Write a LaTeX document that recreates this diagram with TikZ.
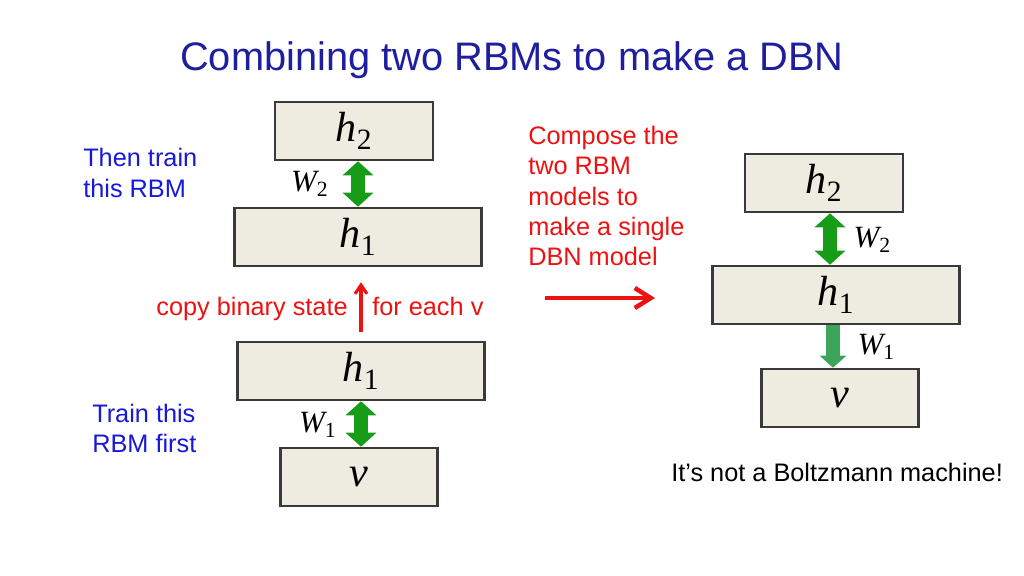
\documentclass[tikz,border=0pt]{standalone}
\usepackage{fontspec}
\setmainfont{Liberation Sans}
\newfontfamily\tms{Liberation Serif}
\usetikzlibrary{arrows.meta, positioning}
\definecolor{layerfill}{HTML}{EEECE1}
\definecolor{layerdraw}{HTML}{3A3A3A}
\definecolor{linkgreen}{HTML}{169C16}
\definecolor{softgreen}{HTML}{3CA55A}
\definecolor{titleblue}{HTML}{1E1E9E}
\definecolor{noteblue}{HTML}{1818D8}
\definecolor{notered}{HTML}{EE1111}
\newcommand{\unitname}[2]{{\tms\itshape #1}\textsubscript{\tms #2}}
\tikzset{
    layer/.style={
        draw=layerdraw,
        line width=1.8pt,
        fill=layerfill,
        rectangle,
        minimum height=1.45cm,
        inner sep=0pt,
        font=\fontsize{30}{30}\selectfont,
    },
    wlabel/.style={font=\fontsize{22}{22}\selectfont, inner sep=1pt},
    note/.style={align=left, inner sep=0pt, font=\fontsize{18}{21.4}\selectfont},
    link/.style={
        linkgreen, line width=10pt,
        {Triangle[width=0.75cm,length=0.35cm]}-{Triangle[width=0.75cm,length=0.35cm]}
    },
    copyarrow/.style={notered, line width=2.2pt, -{Straight Barb[width=0.3cm,length=0.22cm]}},
}

\begin{document}
\begin{tikzpicture}[x=0.025cm, y=-0.025cm]
   \useasboundingbox (0,0) rectangle (1024,576);
   % title
   \node[font=\fontsize{28.3}{28.3}\selectfont, text=titleblue] (title) at (512,60) {Combining two RBMs to make a DBN};
   % left column
   \node[layer, minimum width=3.95cm] (h2a) at (354,131) {\unitname{h}{2}};
   \node[layer, minimum width=6.175cm] (h1a) at (358,237) {\unitname{h}{1}};
   \node[layer, minimum width=6.175cm] (h1b) at (361,371) {\unitname{h}{1}};
   \node[layer, minimum width=3.925cm] (va) at (359,477) {{\tms\itshape v}};
   \draw[link] (h1a.north) to (h1a.north |- h2a.south);
   \draw[link] (h1b.south) to (h1b.south |- va.north);
   \node[wlabel, anchor=east] (w2a) at (330,184) {\unitname{W}{2}};
   \node[wlabel, anchor=east] (w1a) at (338,425) {\unitname{W}{1}};
   \draw[copyarrow, shorten <=0.225cm, shorten >=0.375cm] (h1b.north) to (h1b.north |- h1a.south);
   \node[note, text=notered, anchor=base east] (copy) at (348,316) {copy binary state};
   \node[note, text=notered, anchor=base west] (each) at (372,316) {for each v};
   \node[note, text=noteblue, anchor=west] (then) at (83,173) {Then train\\this RBM};
   \node[note, text=noteblue, anchor=west] (first) at (92,428) {Train this\\RBM first};
   % compose step
   \node[note, text=notered, anchor=west] (compose) at (528,196) {Compose the\\two RBM\\models to\\make a single\\DBN model};
   \coordinate (from) at (545,298);
   \coordinate (to) at (655,298);
   \draw[copyarrow, line width=3.2pt, -{Straight Barb[width=0.5cm,length=0.4cm]}] (from) to (to);
   % right column
   \node[layer, minimum width=3.95cm] (h2c) at (824,183) {\unitname{h}{2}};
   \node[layer, minimum width=6.175cm] (h1c) at (836,295) {\unitname{h}{1}};
   \node[layer, minimum width=3.925cm] (vc) at (840,398) {{\tms\itshape v}};
   \draw[link] ([xshift=0.15cm]h2c.south) to ([xshift=0.15cm]h2c.south |- h1c.north);
   \draw[softgreen, line width=10pt, -{Triangle[width=0.65cm,length=0.3cm]}] ([xshift=-0.075cm]h1c.south) to ([xshift=-0.075cm]h1c.south |- vc.north);
   \node[wlabel, anchor=west] (w2c) at (852,240) {\unitname{W}{2}};
   \node[wlabel, anchor=west] (w1c) at (856,347) {\unitname{W}{1}};
   \node[note, anchor=west] (remark) at (671,472) {It’s not a Boltzmann machine!};
\end{tikzpicture}
\end{document}
